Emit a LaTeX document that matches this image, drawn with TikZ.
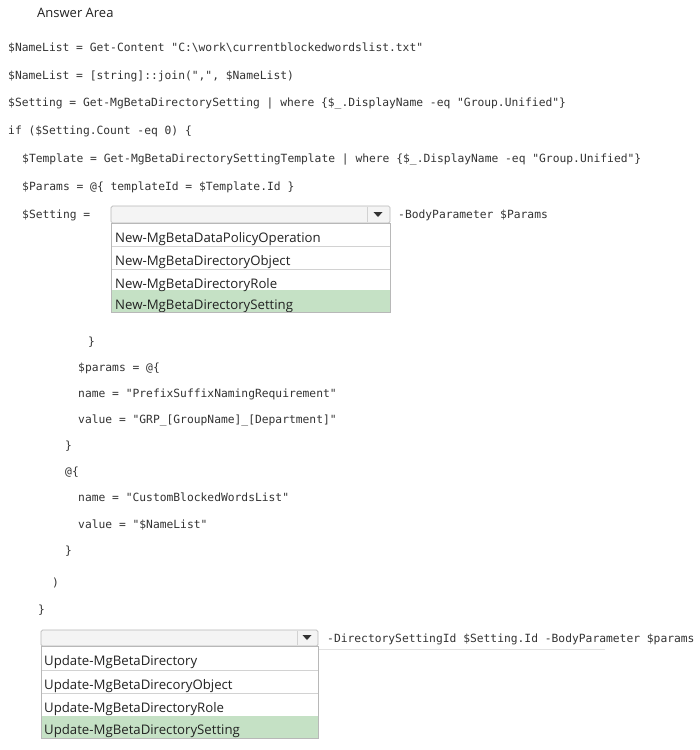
\documentclass[tikz,border=0pt]{standalone}
\usepackage{fontspec}
\newfontfamily\codefont{DejaVu Sans Mono}
\newfontfamily\uifont{Open Sans}
\definecolor{codegray}{HTML}{333333}
\definecolor{uitext}{HTML}{222222}
\definecolor{boxborder}{HTML}{B8B8B8}
\definecolor{headfill}{HTML}{F4F4F4}
\definecolor{sepgray}{HTML}{D2D2D2}
\definecolor{pickgreen}{HTML}{C5E1C5}
\definecolor{faintline}{HTML}{E2E2E2}
\tikzset{
  code/.style={anchor=base west, inner sep=0pt, text=codegray, font=\codefont\fontsize{11.3}{13}\selectfont},
  item/.style={anchor=base west, inner sep=0pt, text=uitext, font=\uifont\fontsize{13.2}{15}\selectfont},
  title/.style={anchor=base west, inner sep=0pt, text=uitext, font=\uifont\fontsize{13}{15}\selectfont},
  headbox/.style={draw=boxborder, fill=headfill, line width=0.7pt, rounded corners=1.5pt},
  listbox/.style={draw=boxborder, line width=0.8pt},
  sepline/.style={draw=sepgray, line width=0.7pt},
  tri/.style={fill=codegray, draw=none}
}
\begin{document}
\begin{tikzpicture}[x=1pt,y=-1pt]
\useasboundingbox (0,0) rectangle (700,750);
\fill[white] (0,0) rectangle (700,750);

\node[title] (title) at (37,17) {Answer Area};

\node[code] (l1) at (8,51) {\$NameList = Get-Content "C:\textbackslash work\textbackslash currentblockedwordslist.txt"};
\node[code] (l2) at (8,79) {\$NameList = [string]::join(",", \$NameList)};
\node[code] (l3) at (8,106) {\$Setting = Get-MgBetaDirectorySetting | where \{\$\_.DisplayName -eq "Group.Unified"\}};
\node[code] (l4) at (8,134) {if (\$Setting.Count -eq 0) \{};
\node[code] (l5) at (22,162) {\$Template = Get-MgBetaDirectorySettingTemplate | where \{\$\_.DisplayName -eq "Group.Unified"\}};
\node[code] (l6) at (22,190) {\$Params = @\{ templateId = \$Template.Id \}};
\node[code] (l7) at (22,218) {\$Setting =};
\node[code] (l7b) at (398,218) {-BodyParameter \$Params};

% dropdown 1
\draw[headbox] (111,206) rectangle (390,223);
\draw[sepline] (367,207) -- (367,222);
\fill[tri] (373.5,212) -- (382.5,212) -- (378,217) -- cycle;
\fill[pickgreen] (111,290) rectangle (390,312);
\draw[sepline] (111,246) -- (390,246);
\draw[sepline] (111,269) -- (390,269);
\node[item] (a1) at (115,242) {New-MgBetaDataPolicyOperation};
\node[item] (a2) at (115,265) {New-MgBetaDirectoryObject};
\node[item] (a3) at (115,288) {New-MgBetaDirectoryRole};
\begin{scope}
\clip (111,290) rectangle (390,311.5);
\node[item] (a4) at (115,309) {New-MgBetaDirectorySetting};
\end{scope}
\draw[listbox] (111,223) rectangle (390,312);

\node[code] (l8) at (88,345) {\}};
\node[code] (l9) at (78,371) {\$params = @\{};
\node[code] (l10) at (78,397) {name = "PrefixSuffixNamingRequirement"};
\node[code] (l11) at (78,423) {value = "GRP\_[GroupName]\_[Department]"};
\node[code] (l12) at (65,449) {\}};
\node[code] (l13) at (65,475) {@\{};
\node[code] (l14) at (78,501) {name = "CustomBlockedWordsList"};
\node[code] (l15) at (78,528) {value = "\$NameList"};
\node[code] (l16) at (65,554) {\}};
\node[code] (l17) at (52,586) {)};
\node[code] (l18) at (38,613) {\}};

% dropdown 2
\draw[faintline, line width=0.8pt] (318,649) -- (605,649);
\draw[headbox] (41,630) rectangle (318,646);
\draw[sepline] (297,631) -- (297,645);
\fill[tri] (302.5,635) -- (311.5,635) -- (307,640) -- cycle;
\node[code] (l19) at (327,642) {-DirectorySettingId \$Setting.Id -BodyParameter \$params};
\fill[pickgreen] (41,716) rectangle (318,738);
\draw[sepline] (41,670) -- (318,670);
\draw[sepline] (41,693) -- (318,693);
\node[item] (b1) at (44,665) {Update-MgBetaDirectory};
\node[item] (b2) at (44,689) {Update-MgBetaDirecoryObject};
\node[item] (b3) at (44,712) {Update-MgBetaDirectoryRole};
\begin{scope}
\clip (41,716) rectangle (318,737.5);
\node[item] (b4) at (44,734) {Update-MgBetaDirectorySetting};
\end{scope}
\draw[listbox] (41,646) rectangle (318,738);
\end{tikzpicture}
\end{document}
